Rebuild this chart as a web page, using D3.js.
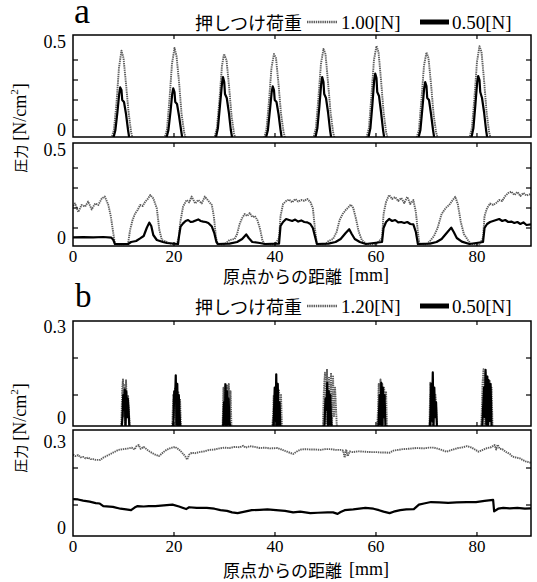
<!DOCTYPE html>
<html>
<head>
<meta charset="utf-8">
<script src="https://cdn.jsdelivr.net/npm/d3@7"></script>
<style>
  body { margin: 0; background: #fff; }
  .num { font-family: "Liberation Serif", "DejaVu Serif", serif; }
  .jp { font-family: "Noto Sans CJK JP", "Noto Sans", sans-serif; }
</style>
</head>
<body>
<div id="chart"></div>
<script>
// pressure along the distance from origin, [mm] -> [N/cm2]
// panel a: pressing load 1.00N (gray) vs 0.50N (black), upper/lower sensor
// panel b: pressing load 1.20N (gray) vs 0.50N (black)

var xTicks = [0, 20, 40, 60, 80];
var aTickLabels = ["0.5", "0"];
var bTickLabels = ["0.3", "0"];
var legendA = ["押しつけ荷重", "1.00[N]", "0.50[N]"];
var legendB = ["押しつけ荷重", "1.20[N]", "0.50[N]"];
var xTitle = "原点からの距離";
var xUnit = "[mm]";

var a1Gray = [
  [0,0],[7.5,0],[8.1,0.05],[8.6,0.18],[9.1,0.36],[9.6,0.447],[10.0,0.41],[10.5,0.28],[11.0,0.14],[11.5,0.04],[11.9,0],
  [18.0,0],[18.6,0.05],[19.1,0.2],[19.6,0.38],[20.1,0.46],[20.5,0.42],[21.0,0.29],[21.5,0.13],[22.0,0.04],[22.4,0],
  [27.9,0],[28.5,0.06],[29.0,0.2],[29.5,0.37],[29.9,0.43],[30.4,0.4],[30.9,0.27],[31.4,0.12],[31.9,0.03],[32.3,0],
  [37.7,0],[38.3,0.05],[38.8,0.19],[39.3,0.36],[39.8,0.43],[40.2,0.41],[40.7,0.28],[41.2,0.13],[41.7,0.04],[42.1,0],
  [47.5,0],[48.1,0.06],[48.6,0.21],[49.1,0.38],[49.6,0.455],[50.0,0.43],[50.5,0.29],[51.0,0.14],[51.5,0.04],[51.9,0],
  [58.0,0],[58.6,0.06],[59.1,0.22],[59.6,0.4],[60.1,0.47],[60.5,0.44],[61.0,0.3],[61.5,0.14],[62.0,0.04],[62.4,0],
  [67.9,0],[68.5,0.05],[69.0,0.2],[69.5,0.37],[70.0,0.438],[70.4,0.41],[70.9,0.28],[71.4,0.13],[71.9,0.04],[72.3,0],
  [78.4,0],[79.0,0.06],[79.5,0.21],[80.0,0.39],[80.5,0.469],[80.9,0.44],[81.4,0.3],[81.9,0.14],[82.4,0.04],[82.8,0],
  [90.7,0]
];

var a1Black = [
  [0,0],[7.9,0],[8.4,0.05],[8.8,0.14],[9.15,0.23],[9.35,0.263],[9.6,0.25],[9.75,0.2],[10.1,0.19],[10.5,0.13],[10.9,0.05],[11.2,0],
  [18.4,0],[18.9,0.05],[19.3,0.14],[19.65,0.23],[19.85,0.258],[20.1,0.24],[20.25,0.19],[20.6,0.18],[21.0,0.12],[21.4,0.05],[21.7,0],
  [28.2,0],[28.7,0.06],[29.1,0.17],[29.5,0.28],[29.7,0.315],[29.95,0.29],[30.1,0.23],[30.45,0.21],[30.85,0.14],[31.25,0.05],[31.6,0],
  [38.1,0],[38.6,0.05],[39.0,0.15],[39.35,0.24],[39.55,0.268],[39.8,0.25],[39.95,0.2],[40.3,0.19],[40.7,0.13],[41.1,0.05],[41.4,0],
  [47.9,0],[48.4,0.06],[48.8,0.17],[49.15,0.28],[49.35,0.315],[49.6,0.29],[49.75,0.23],[50.1,0.21],[50.5,0.14],[50.9,0.05],[51.2,0],
  [58.4,0],[58.9,0.06],[59.3,0.18],[59.65,0.3],[59.85,0.332],[60.1,0.31],[60.25,0.24],[60.6,0.22],[61.0,0.14],[61.4,0.05],[61.7,0],
  [68.3,0],[68.8,0.05],[69.2,0.16],[69.55,0.26],[69.75,0.289],[70.0,0.27],[70.15,0.21],[70.5,0.2],[70.9,0.13],[71.3,0.05],[71.6,0],
  [78.8,0],[79.3,0.06],[79.7,0.18],[80.05,0.29],[80.25,0.32],[80.5,0.3],[80.65,0.24],[81.0,0.21],[81.4,0.14],[81.8,0.05],[82.1,0],
  [90.7,0]
];

var a2Gray = [
  [0,0.21],[0.4,0.223],[1.05,0.18],[1.7,0.215],[2.4,0.207],[3.0,0.232],[3.7,0.193],[4.4,0.223],[5.0,0.215],[5.7,0.248],[6.3,0.257],[7.0,0.215],[7.5,0.157],[8.0,0.07],[8.3,0.02],[9.5,0.018],[10.9,0.02],
  [11.3,0.09],[11.8,0.14],[12.3,0.173],[12.8,0.19],[13.3,0.215],[13.8,0.21],[14.3,0.232],[14.8,0.245],[15.3,0.265],[15.9,0.248],[16.6,0.198],[17.1,0.09],[17.6,0.04],[18.6,0.03],[19.5,0.02],[20.6,0.02],
  [21.0,0.06],[21.2,0.123],[21.8,0.207],[22.5,0.24],[23.0,0.228],[23.5,0.257],[24.2,0.223],[24.8,0.24],[25.5,0.223],[26.1,0.257],[26.8,0.236],[27.5,0.215],[27.9,0.157],[28.3,0.057],[28.6,0.02],[30.0,0.018],
  [31.0,0.04],[32.0,0.045],[32.5,0.07],[33.0,0.12],[33.5,0.15],[34.0,0.17],[34.5,0.16],[35.0,0.175],[35.5,0.155],[36.0,0.16],[36.5,0.14],[37.0,0.1],[37.5,0.04],[37.9,0.02],[40.0,0.018],
  [40.8,0.05],[41.1,0.16],[41.6,0.22],[42.2,0.235],[42.8,0.242],[43.4,0.228],[44.0,0.245],[44.6,0.232],[45.2,0.24],[45.8,0.236],[46.4,0.245],[47.0,0.23],[47.5,0.2],[47.9,0.1],[48.3,0.02],[50.0,0.018],
  [50.6,0.035],[51.5,0.045],[52.2,0.08],[52.8,0.14],[53.4,0.17],[54.0,0.19],[54.6,0.205],[55.0,0.217],[55.5,0.2],[56.0,0.15],[56.6,0.08],[57.2,0.04],[58.1,0.02],[60.0,0.018],
  [61.2,0.05],[61.5,0.17],[62.0,0.23],[62.6,0.265],[63.2,0.245],[63.8,0.255],[64.4,0.235],[65.0,0.25],[65.6,0.225],[66.2,0.255],[66.8,0.22],[67.4,0.24],[67.9,0.18],[68.3,0.08],[68.6,0.02],[70.0,0.018],
  [70.7,0.035],[71.5,0.06],[72.2,0.1],[73.0,0.17],[73.8,0.2],[74.5,0.215],[75.2,0.24],[75.7,0.256],[76.2,0.22],[76.8,0.13],[77.4,0.07],[78.2,0.04],[78.8,0.02],[80.5,0.018],
  [81.2,0.05],[81.5,0.16],[82.0,0.2],[82.6,0.222],[83.2,0.215],[83.8,0.225],[84.4,0.24],[85.0,0.235],[85.6,0.26],[86.2,0.275],[86.8,0.282],[87.4,0.265],[88.0,0.28],[88.6,0.26],[89.2,0.275],[89.8,0.262],[90.7,0.27]
];

var a2Black = [
  [0,0.053],[2,0.054],[4,0.053],[6,0.055],[7.6,0.052],[8.0,0.04],[8.3,0.02],[10.9,0.02],[11.5,0.03],[12.5,0.035],[13.3,0.048],[14.0,0.06],[14.6,0.1],[15.1,0.127],[15.5,0.11],[15.9,0.065],[16.6,0.04],[17.8,0.03],[18.6,0.025],[20.8,0.02],
  [21.0,0.06],[21.3,0.107],[21.8,0.123],[22.3,0.135],[22.8,0.14],[23.3,0.13],[23.8,0.132],[24.3,0.138],[24.8,0.143],[25.3,0.135],[25.8,0.132],[26.3,0.13],[26.8,0.125],[27.5,0.107],[28.0,0.073],[28.4,0.03],[28.7,0.02],
  [31.0,0.022],[32.5,0.03],[33.5,0.045],[34.3,0.068],[34.8,0.05],[35.5,0.03],[37.0,0.025],[38.0,0.02],
  [40.8,0.022],[41.1,0.11],[41.6,0.13],[42.2,0.145],[42.8,0.14],[43.4,0.135],[44.0,0.142],[44.6,0.132],[45.2,0.138],[45.8,0.13],[46.4,0.128],[47.0,0.12],[47.5,0.1],[47.9,0.06],[48.3,0.02],
  [50.6,0.022],[52.0,0.03],[53.0,0.045],[54.0,0.075],[54.7,0.094],[55.2,0.07],[55.8,0.045],[56.8,0.03],[58.0,0.02],
  [61.2,0.03],[61.5,0.1],[62.0,0.13],[62.6,0.145],[63.2,0.135],[63.8,0.14],[64.4,0.128],[65.0,0.13],[65.6,0.125],[66.2,0.13],[66.8,0.12],[67.4,0.118],[67.9,0.08],[68.3,0.02],
  [70.7,0.022],[72.0,0.03],[73.0,0.045],[74.0,0.075],[74.9,0.102],[75.4,0.08],[76.0,0.05],[77.0,0.032],[78.5,0.02],
  [81.2,0.03],[81.5,0.1],[82.0,0.12],[82.6,0.13],[83.2,0.135],[83.8,0.14],[84.4,0.145],[85.0,0.135],[85.6,0.14],[86.2,0.13],[86.8,0.132],[87.4,0.125],[88.0,0.13],[88.6,0.12],[89.2,0.128],[89.8,0.115],[90.7,0.118]
];

var b1Gray = [
  [0,0],
  [9.4,0],[9.6,0.03],[9.75,0.12],[9.9,0.142],[10.05,0.04],[10.2,0.13],[10.35,0.02],[10.5,0.14],[10.7,0.06],[10.9,0.1],[11.1,0.05],[11.3,0],
  [19.5,0],[19.7,0.03],[19.85,0.1],[20.0,0.04],[20.2,0.12],[20.35,0.0],[20.5,0.128],[20.65,0.05],[20.85,0.11],[21.0,0.04],[21.2,0.09],[21.4,0],
  [29.6,0],[29.8,0.12],[29.95,0.02],[30.15,0.133],[30.3,0.03],[30.5,0.125],[30.65,0.0],[30.85,0.13],[31.0,0.04],[31.2,0.11],[31.4,0],
  [39.4,0],[39.6,0.04],[39.75,0.1],[39.9,0.02],[40.1,0.119],[40.25,0.0],[40.45,0.11],[40.6,0.01],[40.8,0.115],[41.0,0.02],[41.2,0.1],[41.4,0],
  [49.3,0],[49.5,0.02],[49.7,0.12],[49.9,0.16],[50.1,0.02],[50.3,0.17],[50.5,0.0],[50.7,0.15],[50.9,0.03],[51.1,0.16],[51.3,0.02],[51.5,0.15],[51.7,0.04],[51.9,0.12],[52.1,0.06],[52.3,0],
  [60.2,0],[60.4,0.06],[60.55,0.13],[60.7,0.03],[60.9,0.142],[61.05,0.05],[61.25,0.13],[61.4,0.02],[61.6,0.12],[61.8,0.09],[62.0,0.11],[62.2,0],
  [70.4,0],[70.6,0.02],[70.75,0.133],[70.9,0.0],[71.1,0.13],[71.25,0.02],[71.45,0.12],[71.6,0.05],[71.8,0.1],[72.0,0.04],[72.2,0],
  [80.7,0],[80.9,0.03],[81.1,0.13],[81.3,0.17],[81.5,0.01],[81.7,0.16],[81.9,0.0],[82.1,0.15],[82.3,0.02],[82.5,0.14],[82.7,0.03],[82.9,0.12],[83.1,0],
  [90.7,0]
];

var b1Black = [
  [0,0],
  [9.6,0],[9.8,0.04],[9.95,0.1],[10.1,0.06],[10.25,0.115],[10.4,0.0],[10.55,0.11],[10.7,0.04],[10.85,0.09],[11.0,0.06],[11.2,0],
  [19.7,0],[19.9,0.03],[20.05,0.11],[20.2,0.08],[20.35,0.153],[20.5,0.02],[20.65,0.13],[20.8,0.01],[20.95,0.1],[21.1,0.05],[21.3,0],
  [29.7,0],[29.9,0.08],[30.05,0.02],[30.2,0.128],[30.35,0.0],[30.5,0.11],[30.65,0.02],[30.8,0.09],[31.0,0.03],[31.2,0],
  [39.6,0],[39.8,0.05],[39.95,0.12],[40.1,0.03],[40.25,0.156],[40.4,0.0],[40.55,0.13],[40.7,0.02],[40.9,0.08],[41.1,0],
  [49.6,0],[49.8,0.02],[50.0,0.09],[50.2,0.06],[50.35,0.133],[50.5,0.01],[50.65,0.11],[50.8,0.02],[50.95,0.1],[51.1,0.03],[51.3,0],
  [60.4,0],[60.6,0.05],[60.75,0.1],[60.9,0.02],[61.05,0.133],[61.2,0.0],[61.35,0.12],[61.5,0.04],[61.7,0.1],[61.9,0],
  [70.6,0],[70.8,0.05],[70.95,0.13],[71.1,0.03],[71.25,0.161],[71.4,0.01],[71.55,0.12],[71.7,0.04],[71.9,0.08],[72.1,0],
  [81.0,0],[81.2,0.06],[81.4,0.12],[81.55,0.04],[81.7,0.168],[81.85,0.02],[82.0,0.15],[82.15,0.0],[82.3,0.14],[82.5,0.03],[82.7,0.13],[82.9,0],
  [90.7,0]
];

var b2Gray = [
  [0,0.236],[0.5,0.232],[1,0.235],[1.5,0.229],[2,0.23],[2.5,0.226],[3,0.228],[3.5,0.224],[4,0.224],[4.5,0.222],[5.4,0.222],[6,0.228],[7,0.235],[8,0.242],
  [9,0.249],[10,0.251],[11,0.253],[11.6,0.255],[12.2,0.25],[12.5,0.258],[13,0.262],[13.4,0.252],[14,0.257],[15,0.246],[16,0.238],[17,0.232],
  [18,0.244],[18.5,0.249],[19.3,0.254],[20.2,0.257],[21,0.25],[21.5,0.243],[22.2,0.232],[22.6,0.223],[23,0.236],[23.5,0.241],[24.2,0.24],
  [25,0.243],[26,0.245],[27,0.249],[28,0.25],[29,0.253],[30,0.255],[31,0.254],[32,0.257],[33,0.256],[33.7,0.26],[34.2,0.255],[35,0.259],
  [36,0.257],[37,0.254],[38,0.255],[39,0.253],[40.5,0.254],[41.3,0.25],[42,0.246],[43,0.241],[43.6,0.238],[44.5,0.246],[45.2,0.25],[46,0.251],
  [47,0.25],[48,0.25],[49,0.249],[50,0.251],[51,0.251],[52,0.249],[53,0.249],[53.5,0.247],[53.8,0.228],[54.1,0.25],[54.4,0.232],[54.8,0.245],
  [55.4,0.243],[56.5,0.245],[57.8,0.244],[59,0.243],[60,0.243],[61,0.242],[62,0.242],[62.6,0.241],[63.5,0.247],[64.4,0.249],[65.3,0.251],
  [66.5,0.252],[68,0.254],[69.5,0.253],[70.5,0.255],[71.5,0.255],[72.3,0.252],[73,0.249],[74,0.244],[75,0.249],[76.3,0.254],[77.2,0.256],
  [78,0.259],[79,0.255],[80.3,0.244],[81,0.248],[82,0.254],[82.8,0.256],[83.5,0.262],[83.8,0.25],[84.1,0.263],[84.5,0.252],[85,0.251],
  [85.8,0.243],[86.5,0.238],[87,0.231],[87.8,0.228],[88.5,0.226],[89,0.222],[89.6,0.218],[90.2,0.216],[90.7,0.214]
];

var b2Black = [
  [0,0.116],[1,0.115],[2,0.112],[3.3,0.109],[4.5,0.105],[5.3,0.104],[6,0.097],[7.9,0.095],[9.4,0.09],[10.5,0.088],[11.5,0.086],[12.2,0.093],
  [12.8,0.097],[14,0.096],[15,0.097],[16.3,0.097],[18,0.099],[19.7,0.101],[21,0.096],[22.4,0.089],[23,0.094],[24.5,0.092],[26.5,0.092],
  [28,0.09],[29.2,0.086],[30.5,0.084],[31.5,0.08],[32.6,0.078],[34,0.082],[35.4,0.086],[37,0.087],[38.5,0.088],[40.2,0.086],[42,0.084],
  [43.6,0.08],[45,0.082],[47,0.078],[48.5,0.079],[50.4,0.08],[51.5,0.08],[52.4,0.076],[53,0.081],[53.8,0.086],[55.5,0.088],[57.9,0.092],
  [59.5,0.09],[60.6,0.086],[61.5,0.082],[62.7,0.078],[63.5,0.082],[64.8,0.086],[66,0.088],[67.5,0.089],[68.5,0.101],[69.5,0.104],
  [70.9,0.108],[72.5,0.107],[74.3,0.106],[76,0.107],[78,0.108],[79.8,0.108],[81.5,0.111],[83.2,0.114],[83.4,0.083],[84.2,0.09],
  [85.2,0.092],[86.5,0.091],[88,0.092],[89.5,0.09],[90.7,0.091]
];

// page
var W = 537, H = 582;
var svg = d3.select("#chart").append("svg")
  .attr("width", W).attr("height", H)
  .style("background", "#fff");

var x = d3.scaleLinear().domain([0, 90.7]).range([73, 531]);

var grayStyle = {stroke: "#5e5e5e", width: 1.9, dash: "1.4 0.8"};
var blackStyle = {stroke: "#000", width: 2.2, dash: null};

// one framed panel
function drawPanel(id, top, bottom, y, yTicks, labels, series) {
  var g = svg.append("g");
  g.append("clipPath").attr("id", id)
    .append("rect").attr("x", x.range()[0]).attr("y", top)
    .attr("width", x.range()[1] - x.range()[0]).attr("height", bottom - top);

  var line = d3.line().x(function(d) { return x(d[0]); }).y(function(d) { return y(d[1]); });
  series.forEach(function(s) {
    g.append("path").datum(s.data)
      .attr("clip-path", "url(#" + id + ")")
      .attr("d", line)
      .attr("fill", "none")
      .attr("stroke", s.style.stroke)
      .attr("stroke-width", s.style.width)
      .attr("stroke-dasharray", s.style.dash)
      .attr("stroke-linejoin", "round");
  });

  g.append("rect")
    .attr("x", x.range()[0]).attr("y", top)
    .attr("width", x.range()[1] - x.range()[0]).attr("height", bottom - top)
    .attr("fill", "none").attr("stroke", "#000").attr("stroke-width", 1.5);

  // inner ticks
  yTicks.forEach(function(t) {
    g.append("line").attr("x1", x.range()[0]).attr("x2", x.range()[0] + 5)
      .attr("y1", y(t)).attr("y2", y(t)).attr("stroke", "#000").attr("stroke-width", 1.2);
    g.append("line").attr("x1", x.range()[1]).attr("x2", x.range()[1] - 5)
      .attr("y1", y(t)).attr("y2", y(t)).attr("stroke", "#000").attr("stroke-width", 1.2);
  });
  xTicks.slice(1).forEach(function(t) {
    g.append("line").attr("x1", x(t)).attr("x2", x(t))
      .attr("y1", top).attr("y2", top + 4).attr("stroke", "#000").attr("stroke-width", 1.2);
    g.append("line").attr("x1", x(t)).attr("x2", x(t))
      .attr("y1", bottom).attr("y2", bottom - 4).attr("stroke", "#000").attr("stroke-width", 1.2);
  });

  labels.forEach(function(l) {
    g.append("text").attr("class", "num")
      .attr("x", 66).attr("y", l.y)
      .attr("text-anchor", "end").attr("dominant-baseline", "central")
      .attr("font-size", 18).text(l.text);
  });
}

function drawXAxis(bottom, titleY) {
  xTicks.forEach(function(t) {
    svg.append("text").attr("class", "num")
      .attr("x", x(t)).attr("y", bottom + 10)
      .attr("text-anchor", "middle").attr("dominant-baseline", "central")
      .attr("font-size", 17).text(t);
  });
  var tt = svg.append("text")
    .attr("x", 306).attr("y", titleY)
    .attr("text-anchor", "middle").attr("dominant-baseline", "central");
  tt.append("tspan").attr("class", "jp").attr("font-size", 17).text(xTitle);
  tt.append("tspan").attr("class", "num").attr("font-size", 18).attr("dx", 7).text(xUnit);
}

function drawYTitle(cy) {
  var t = svg.append("text")
    .attr("transform", "translate(20," + cy + ") rotate(-90)")
    .attr("text-anchor", "middle").attr("dominant-baseline", "central");
  t.append("tspan").attr("class", "jp").attr("font-size", 14).text("圧力");
  t.append("tspan").attr("class", "num").attr("font-size", 18).attr("dx", 4).text("[N/cm");
  t.append("tspan").attr("class", "num").attr("font-size", 11).attr("dy", -6).text("2");
  t.append("tspan").attr("class", "num").attr("font-size", 18).attr("dy", 6).text("]");
}

function drawHeader(letter, lx, ly, size, legend, cy) {
  svg.append("text").attr("class", "num")
    .attr("x", lx).attr("y", ly)
    .attr("font-size", size).text(letter);
  svg.append("text").attr("class", "jp")
    .attr("x", 195).attr("y", cy).attr("dominant-baseline", "central")
    .attr("font-size", 18).text(legend[0]);
  svg.append("line").attr("x1", 307).attr("x2", 337).attr("y1", cy).attr("y2", cy)
    .attr("stroke", grayStyle.stroke).attr("stroke-width", 2.4).attr("stroke-dasharray", "1.4 0.8");
  svg.append("text").attr("class", "num")
    .attr("x", 341).attr("y", cy).attr("dominant-baseline", "central")
    .attr("font-size", 19).text(legend[1]);
  svg.append("line").attr("x1", 420).attr("x2", 449).attr("y1", cy).attr("y2", cy)
    .attr("stroke", "#000").attr("stroke-width", 5);
  svg.append("text").attr("class", "num")
    .attr("x", 452).attr("y", cy).attr("dominant-baseline", "central")
    .attr("font-size", 19).text(legend[2]);
}

// panel a
var ya1 = d3.scaleLinear().domain([0, 0.5]).range([140, 40]);
var ya2 = d3.scaleLinear().domain([0, 0.5]).range([248, 148]);
drawHeader("a", 74, 23, 36, legendA, 22);
drawPanel("ca1", 35, 137, ya1, [0.1, 0.2, 0.3, 0.4],
  [{text: aTickLabels[0], y: 42}, {text: aTickLabels[1], y: 130}],
  [{data: a1Gray, style: grayStyle}, {data: a1Black, style: blackStyle}]);
drawPanel("ca2", 143, 246, ya2, [0.1, 0.2, 0.3, 0.4],
  [{text: aTickLabels[0], y: 150}, {text: aTickLabels[1], y: 238}],
  [{data: a2Gray, style: grayStyle}, {data: a2Black, style: blackStyle}]);
drawXAxis(246, 275);
drawYTitle(128);

// panel b
var yb1 = d3.scaleLinear().domain([0, 0.3]).range([432, 321]);
var yb2 = d3.scaleLinear().domain([0, 0.3]).range([542, 431]);
drawHeader("b", 75, 307, 33, legendB, 306);
drawPanel("cb1", 321, 426, yb1, [0.1, 0.2],
  [{text: bTickLabels[0], y: 327}, {text: bTickLabels[1], y: 418}],
  [{data: b1Gray, style: grayStyle}, {data: b1Black, style: blackStyle}]);
drawPanel("cb2", 430, 536, yb2, [0.1, 0.2],
  [{text: bTickLabels[0], y: 442}, {text: bTickLabels[1], y: 528}],
  [{data: b2Gray, style: grayStyle}, {data: b2Black, style: blackStyle}]);
drawXAxis(536, 569);
drawYTitle(428);
</script>
</body>
</html>
